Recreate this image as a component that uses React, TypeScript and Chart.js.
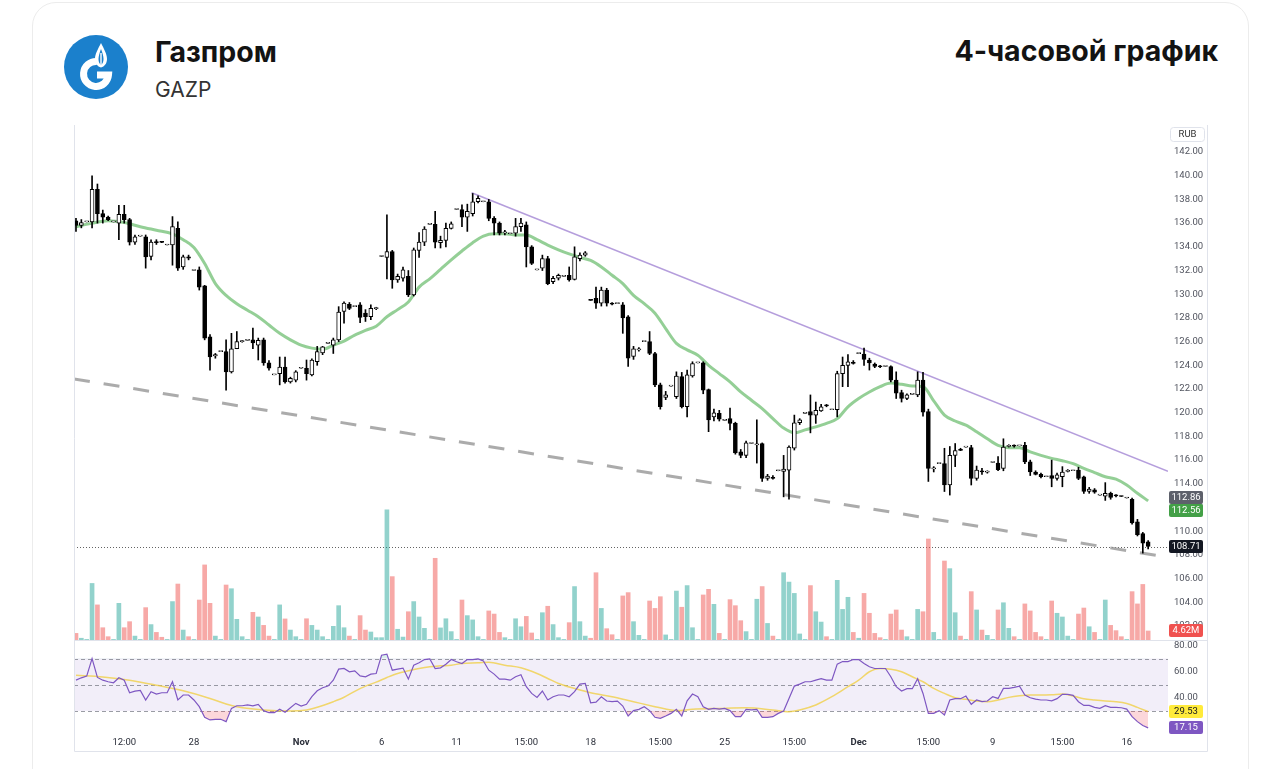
import React, { useEffect, useRef } from 'react';
import { Chart, registerables } from 'chart.js';

Chart.register(...registerables);

// ---- data (4h candles, GAZP) ----
const opens = [
  136.2, 135.8, 136.1, 136.1, 138.85, 136.8, 136.5, 136.1, 136.0, 136.75,
  136.3, 134.4, 134.9, 134.85, 133.2, 134.45, 134.42, 134.15, 134.15, 135.55,
  132.3, 133.15, 132.0, 132.05, 130.7, 126.4, 124.8, 125.15, 125.15, 123.45,
  125.4, 126.0, 126.1, 126.15, 125.7, 126.15, 124.2, 123.2, 123.3, 123.85,
  122.6, 122.75, 123.75, 123.75, 123.2, 124.3, 125.05, 125.85, 125.7, 126.15,
  128.55, 129.15, 128.95, 129.1, 128.4, 128.1, 128.78, 133.18, 133.1, 133.6,
  131.2, 131.35, 131.5, 129.95, 133.7, 134.4, 135.9, 135.9, 134.35, 134.55,
  135.55, 137.15, 137.15, 136.5, 136.8, 137.8, 137.8, 137.8, 136.4, 136.0,
  135.18, 135.1, 135.15, 135.7, 135.85, 134.0, 132.05, 132.2, 133.0, 131.05,
  131.35, 131.5, 131.6, 131.25, 133.0, 133.3, 129.52, 129.65, 129.25, 130.35,
  129.25, 129.2, 129.1, 128.1, 124.75, 125.3, 126.0, 126.0, 125.0, 122.35,
  121.3, 122.25, 121.35, 123.05, 120.5, 123.1, 124.2, 124.2, 121.95, 119.65,
  119.95, 119.35, 119.5, 119.1, 116.7, 116.4, 117.4, 117.28, 117.4, 114.45,
  114.55, 115.1, 115.05, 115.15, 117.0, 119.15, 119.95, 120.1, 119.8, 120.15,
  120.62, 120.25, 120.25, 123.3, 124.0, 124.25, 124.98, 124.95, 124.45, 124.1,
  123.95, 123.9, 123.9, 122.75, 121.7, 121.2, 121.55, 121.5, 122.75, 120.1,
  115.25, 115.7, 115.7, 113.9, 116.4, 116.9, 117.1, 117.05, 114.45, 115.1,
  114.98, 115.8, 115.75, 115.3, 117.15, 117.22, 117.2, 117.25, 115.85, 115.0,
  114.8, 114.6, 114.7, 114.45, 114.6, 115.05, 115.1, 115.15, 114.6, 113.35,
  113.5, 113.05, 112.95, 113.2, 113.02, 112.97, 112.8, 112.7, 110.8, 109.8,
  109.1,
];
const closes = [
  135.8, 136.05, 136.1, 138.85, 136.8, 136.5, 136.3, 136.1, 136.75, 136.3,
  134.4, 134.85, 134.9, 133.15, 134.4, 134.35, 134.38, 134.15, 135.7, 132.2,
  133.15, 133.05, 132.0, 130.6, 126.3, 124.7, 124.9, 125.15, 123.45, 125.4,
  126.0, 126.05, 126.1, 125.9, 126.1, 124.2, 123.75, 123.2, 123.85, 122.6,
  122.9, 123.45, 123.75, 123.3, 124.45, 125.15, 125.55, 125.85, 126.15, 128.5,
  129.25, 128.8, 128.95, 128.05, 128.1, 128.8, 128.82, 133.22, 133.6, 131.2,
  131.5, 132.05, 129.95, 133.75, 134.4, 135.5, 135.9, 134.4, 134.55, 135.55,
  135.95, 137.15, 136.5, 137.0, 137.8, 138.1, 137.8, 136.4, 136.0, 135.15,
  135.22, 135.1, 135.7, 136.0, 134.0, 132.6, 132.05, 133.0, 130.9, 131.35,
  131.6, 131.5, 131.2, 133.15, 133.3, 133.5, 129.48, 129.25, 130.35, 129.25,
  129.15, 129.2, 128.0, 124.6, 125.4, 125.4, 126.0, 125.0, 122.35, 120.5,
  121.5, 122.25, 123.1, 120.5, 123.2, 124.15, 124.2, 121.9, 119.4, 120.0,
  119.45, 119.35, 119.1, 116.6, 116.4, 117.45, 117.4, 117.32, 114.45, 114.65,
  114.45, 115.1, 115.25, 117.1, 119.15, 119.4, 119.95, 119.8, 120.2, 120.5,
  120.58, 120.25, 123.3, 124.0, 124.3, 124.15, 125.02, 124.5, 124.2, 123.9,
  123.88, 123.9, 122.75, 121.65, 121.2, 121.5, 121.55, 122.75, 120.05, 115.3,
  115.35, 115.7, 113.9, 116.4, 116.8, 116.82, 117.1, 114.45, 115.15, 115.0,
  115.02, 115.8, 115.2, 117.1, 117.25, 117.18, 117.2, 115.85, 115.0, 114.8,
  114.6, 114.6, 114.45, 114.75, 115.0, 115.12, 115.1, 114.45, 113.35, 113.55,
  113.3, 113.05, 113.2, 112.85, 112.98, 112.93, 112.8, 110.7, 109.7, 109.0,
  108.71,
];
const highs = [
  136.4, 136.3, 136.1, 140.0, 139.3, 137.1, 136.6, 136.1, 137.5, 137.5,
  136.4, 135.0, 134.9, 135.0, 134.6, 134.6, 134.45, 134.15, 136.55, 136.1,
  133.3, 133.3, 132.0, 132.3, 130.75, 126.6, 125.0, 125.15, 126.15, 126.7,
  126.85, 126.1, 126.1, 127.15, 126.3, 126.3, 124.4, 123.2, 124.7, 124.7,
  123.0, 123.55, 123.75, 124.45, 124.55, 125.6, 125.6, 125.85, 126.3, 128.95,
  129.35, 129.3, 128.95, 129.3, 128.7, 129.1, 128.9, 133.22, 136.7, 133.7,
  131.7, 132.3, 132.0, 133.9, 135.2, 135.7, 135.9, 137.0, 134.9, 136.0,
  136.1, 137.15, 137.55, 137.6, 138.5, 138.3, 137.8, 138.0, 136.55, 136.1,
  135.4, 135.1, 136.4, 136.4, 136.1, 134.1, 132.05, 133.3, 133.2, 131.5,
  131.7, 131.5, 132.3, 134.0, 133.5, 133.6, 129.52, 130.6, 130.6, 130.5,
  129.3, 129.2, 129.3, 128.2, 125.6, 125.5, 126.0, 126.85, 125.1, 122.5,
  121.8, 122.25, 123.45, 123.4, 123.6, 124.3, 124.2, 124.3, 122.0, 120.3,
  120.2, 119.35, 120.4, 119.2, 116.9, 117.6, 117.4, 119.4, 117.45, 114.8,
  114.7, 115.1, 116.4, 117.2, 119.8, 119.5, 119.95, 121.5, 120.9, 120.7,
  120.7, 120.25, 123.5, 124.7, 124.9, 124.4, 125.02, 125.45, 124.6, 124.2,
  124.0, 123.9, 123.95, 123.45, 121.9, 121.6, 121.55, 123.45, 123.4, 120.3,
  115.45, 115.7, 117.0, 117.15, 117.4, 117.0, 117.1, 117.25, 115.5, 115.3,
  115.1, 115.8, 116.3, 117.8, 117.3, 117.3, 117.2, 117.5, 116.0, 115.1,
  114.9, 114.6, 116.0, 114.9, 115.45, 115.2, 115.1, 115.4, 114.65, 113.7,
  113.6, 113.05, 114.1, 113.3, 113.1, 112.97, 112.8, 112.8, 111.0, 109.9,
  109.2,
];
const lows = [
  135.3, 135.6, 136.1, 135.6, 136.0, 136.0, 136.2, 136.1, 134.6, 136.0,
  134.15, 134.2, 134.9, 132.2, 132.9, 134.2, 134.35, 134.15, 132.45, 132.0,
  132.1, 132.9, 132.0, 130.35, 126.15, 123.6, 124.6, 125.15, 121.9, 123.35,
  125.4, 125.95, 126.1, 125.4, 124.45, 124.0, 123.6, 123.2, 122.35, 122.5,
  122.5, 122.6, 123.75, 122.75, 123.1, 124.0, 124.9, 125.85, 125.0, 126.0,
  127.55, 128.7, 128.95, 127.6, 127.7, 127.85, 128.7, 133.18, 131.3, 130.5,
  131.0, 131.1, 129.8, 129.85, 133.1, 134.1, 135.9, 133.9, 133.9, 134.0,
  135.5, 137.15, 135.7, 135.3, 136.6, 137.7, 137.8, 136.2, 135.0, 135.0,
  135.0, 135.1, 134.9, 135.3, 132.3, 132.5, 132.05, 132.0, 130.8, 130.9,
  131.2, 131.5, 131.1, 131.2, 132.8, 133.2, 129.48, 128.8, 129.0, 129.0,
  129.1, 129.2, 126.7, 123.9, 124.5, 125.2, 126.0, 124.9, 122.2, 120.3,
  121.1, 122.25, 121.2, 120.4, 119.65, 123.0, 124.2, 121.6, 118.4, 119.3,
  119.3, 119.35, 118.55, 116.5, 116.2, 116.2, 117.4, 115.75, 114.2, 114.3,
  114.4, 115.1, 112.9, 112.7, 116.85, 119.0, 119.95, 118.3, 119.1, 120.1,
  120.5, 120.25, 119.65, 122.2, 122.2, 124.1, 124.98, 124.0, 123.6, 123.8,
  123.8, 123.9, 122.6, 121.2, 120.9, 121.1, 121.55, 121.35, 119.7, 114.2,
  115.0, 115.7, 113.35, 113.05, 115.45, 116.8, 117.1, 113.9, 114.3, 114.8,
  114.9, 115.8, 115.1, 115.1, 117.1, 117.1, 117.2, 115.7, 114.7, 114.75,
  114.5, 114.6, 113.75, 114.3, 113.75, 115.0, 115.1, 114.35, 113.2, 113.2,
  113.2, 113.05, 112.6, 112.7, 112.9, 112.93, 112.8, 110.6, 109.6, 108.15,
  108.5,
];
// volume, millions of shares
const volumes = [
  3.4, 0.9, 0.3, 29, 18, 6.3, 1.7, 0.3, 18.8, 6.3,
  9.4, 2, 0.3, 16.6, 7.9, 3.9, 1.4, 0.3, 19.7, 28.7,
  5.1, 1.7, 0.3, 20.5, 38.5, 18.8, 2, 0.3, 28.2, 26.3,
  10.6, 1.7, 0.3, 14.2, 11.8, 7.5, 2, 0.3, 18, 10.8,
  5.1, 1.7, 0.3, 10.9, 7.5, 5.1, 1.7, 0.3, 7, 17.6,
  6.3, 2, 0.3, 12.5, 5.1, 4.1, 1.2, 1.2, 66.7, 32.5,
  5.5, 1.5, 14.5, 19.7, 11.8, 6, 0.3, 41.9, 6.2, 10.9,
  4.3, 0.3, 20.5, 12.5, 10.3, 1.7, 0.3, 14.9, 13.3, 3.9,
  1.2, 0.3, 10.9, 6.8, 12.1, 3.6, 0.3, 14, 17.3, 7.9,
  1.2, 0.3, 8.9, 27.4, 9.4, 2, 0.9, 34.5, 16.2, 5.8,
  2.7, 0.3, 22.6, 24.3, 9.4, 2.4, 0.3, 20, 16.2, 22.2,
  2.6, 0.3, 25.1, 16.8, 27.9, 6.3, 0.3, 23.1, 26, 18.3,
  3.4, 0.3, 20.7, 17.6, 9.9, 4.3, 0.3, 20.9, 27.4, 8.5,
  2, 0.3, 34.5, 29.7, 23.9, 3.1, 0.3, 27.9, 14.5, 9.2,
  1.7, 0.3, 30.6, 15.7, 21.9, 3.9, 0.9, 23.9, 13.7, 3.4,
  1.2, 0.3, 13.3, 15.4, 5.1, 1.7, 0.3, 15.7, 14.5, 51.8,
  3.9, 0.3, 40.5, 36.6, 14, 2, 0.3, 24.8, 15.4, 5.1,
  2.4, 0.3, 15.4, 19.1, 6, 1.7, 0.3, 18.5, 14.9, 3.9,
  1.7, 0.3, 20, 13.7, 11.8, 2, 0.3, 13.3, 16.4, 6.8,
  3.9, 0.3, 20.5, 7.5, 4.8, 1.7, 0.3, 24.8, 18.5, 28.5,
  4.62,
];
const rsiValues = [
  53.5, 55.3, 56.6, 70, 55.6, 53.5, 52.3, 51.5, 55.3, 53.5,
  43.9, 45.2, 45.7, 38.4, 44.7, 42.9, 43.9, 43.9, 52.3, 38.4,
  42.2, 42.2, 38.4, 33.3, 25.2, 23.2, 23.7, 23.7, 21.9, 32,
  34, 34, 34.6, 34, 35.1, 30.3, 28.7, 28.7, 31.3, 29,
  32.5, 35.8, 33.8, 35.1, 40.9, 45.4, 47.7, 49, 53.5, 61.9,
  62.4, 59.9, 60.6, 56.8, 56.1, 58.1, 58.6, 72.5, 73.3, 61.1,
  61.9, 62.7, 54.3, 64.9, 66.7, 69.2, 69.7, 62.4, 62.9, 65.7,
  69.2, 67.5, 66.2, 69.2, 69.2, 69.7, 68.2, 61.1, 58.1, 54.3,
  54.3, 53.5, 56.1, 57.6, 48.5, 43.4, 40.4, 45.2, 38.4, 40.9,
  42.2, 42.2, 40.9, 44.7, 50.5, 51, 36.3, 36.8, 40.9, 37.6,
  37.1, 37.6, 33.8, 26.2, 30.3, 31.3, 33.3, 30.3, 25.2, 24.4,
  26.2, 28.2, 31.3, 26.2, 37.8, 42.9, 40.9, 33.3, 31.3, 32,
  31.5, 32, 30.3, 25.7, 25.7, 31.3, 30.8, 31.3, 25.2, 25.2,
  25.7, 28.2, 30, 39.6, 49, 50.5, 52.3, 52.3, 53.5, 54.6,
  53.5, 53.5, 65.7, 67.7, 67.7, 69.2, 69.2, 66.2, 63.7, 62.4,
  62.4, 62.4, 56.1, 48.5, 45.2, 47, 47, 54.6, 43.4, 28.2,
  28.2, 30.3, 27, 38.4, 39.4, 39.4, 41.4, 35.1, 38.4, 37.1,
  37.6, 40.9, 39.6, 47.2, 47.2, 48, 49, 42.2, 40.1, 39.1,
  38.4, 38.4, 37.8, 39.4, 42.7, 42.7, 41.9, 37.1, 34.3, 34.3,
  32.8, 32, 34, 32.8, 32.8, 32.5, 31.5, 25.7, 21.9, 18.9,
  17.15,
];
const rsiMaIdx = [0, 5, 10, 15, 20, 25, 28, 30, 35, 40, 43, 45, 48, 50, 52, 54, 56, 58, 60, 62, 64, 66, 68, 70, 72, 75, 77, 80, 83, 86, 88, 90, 93, 96, 100, 104, 108, 110, 112, 115, 120, 125, 130, 133, 135, 138, 141, 144, 146, 148, 150, 152, 154, 156, 158, 160, 162, 164, 166, 168, 170, 172, 174, 176, 178, 180, 182, 184, 186, 188, 190, 192, 194, 196, 198, 200];
const rsiMaVals = [57.3, 56, 53.5, 49.7, 45.4, 39.6, 35.3, 33.3, 30.8, 30, 30.8, 32.8, 37.1, 40.5, 45, 49, 52, 55.5, 58.6, 60.6, 62.4, 63.7, 64.4, 64.9, 66.2, 66.7, 67.2, 64.9, 62.9, 58.6, 54.8, 51, 47.2, 43.9, 40.9, 37.1, 33.3, 31.5, 30.3, 31.3, 32, 32.5, 30.8, 29.5, 30.8, 34.6, 40.9, 48.5, 53.5, 59.9, 62.4, 61.9, 59.9, 56.1, 52.3, 47.2, 43.4, 40.1, 38.9, 37.6, 37.1, 38.4, 40.4, 41.6, 42.2, 42.2, 42.4, 42.9, 41.4, 39.4, 38.4, 37.6, 37.1, 35.8, 32.8, 29.53];
const emaIdx = [0, 3, 6, 9, 12, 15, 18, 20, 22, 24, 26, 28, 30, 32, 34, 36, 38, 40, 42, 44, 46, 48, 50, 52, 54, 56, 58, 60, 62, 64, 66, 68, 70, 72, 74, 76, 78, 80, 82, 84, 86, 88, 90, 92, 94, 96, 98, 100, 102, 104, 106, 108, 110, 112, 114, 116, 118, 120, 122, 124, 126, 128, 130, 132, 134, 136, 138, 140, 142, 144, 146, 148, 150, 152, 154, 156, 158, 160, 162, 164, 166, 168, 170, 172, 174, 176, 178, 180, 182, 184, 186, 188, 190, 192, 194, 196, 198, 200];
const emaVals = [135.7, 136.0, 136.2, 136.05, 135.7, 135.4, 135.1, 134.6, 133.95, 132.6, 130.9, 129.9, 129.2, 128.65, 128.1, 127.4, 126.7, 126.15, 125.7, 125.45, 125.35, 125.7, 126.05, 126.55, 126.95, 127.3, 128.1, 128.7, 129.35, 130.6, 131.3, 132.1, 132.9, 133.65, 134.35, 134.9, 135.1, 135.1, 135.0, 135.0, 134.6, 134.15, 133.75, 133.4, 133.1, 132.85, 132.3, 131.6, 130.9, 129.9, 129.2, 128.4, 127.1, 125.85, 125.3, 124.85, 124.0, 123.3, 122.6, 121.75, 121.05, 120.35, 119.5, 118.7, 118.3, 118.55, 118.8, 119.1, 119.5, 120.5, 121.2, 121.75, 122.2, 122.5, 122.4, 122.25, 122.2, 121.0, 119.8, 119.3, 118.95, 118.4, 117.8, 117.25, 117.05, 117.05, 116.7, 116.4, 116.15, 115.95, 115.7, 115.3, 114.95, 114.6, 114.4, 113.9, 113.2, 112.56];
const resistanceLine = [{ x: 73.8, y: 138.57 }, { x: 203.7, y: 115.05 }];
const supportLine = [{ x: -0.37, y: 122.85 }, { x: 203.7, y: 107.8 }];
const timeTickIdx = [9, 22, 42, 57, 71, 84, 96, 109, 121, 134, 146, 159, 171, 184, 196];
const timeTickText = ['12:00', '28', 'Nov', '6', '11', '15:00', '18', '15:00', '25', '15:00', 'Dec', '15:00', '9', '15:00', '16'];
const monthTicks = ['Nov', 'Dec'];
const priceTicks = [102, 104, 106, 108, 110, 112, 114, 116, 118, 120, 122, 124, 126, 128, 130, 132, 134, 136, 138, 140, 142];
const rsiTicks = [40, 60, 80];
const rsiLevels = [70, 50, 30];
const secondMaLast = 112.86;

function rrect(ctx: CanvasRenderingContext2D, x: number, y: number, w: number, h: number, r: number) {
  ctx.beginPath();
  ctx.moveTo(x + r, y);
  ctx.lineTo(x + w - r, y);
  ctx.quadraticCurveTo(x + w, y, x + w, y + r);
  ctx.lineTo(x + w, y + h - r);
  ctx.quadraticCurveTo(x + w, y + h, x + w - r, y + h);
  ctx.lineTo(x + r, y + h);
  ctx.quadraticCurveTo(x, y + h, x, y + h - r);
  ctx.lineTo(x, y + r);
  ctx.quadraticCurveTo(x, y, x + r, y);
  ctx.closePath();
}

const noPad = (s: any) => {
  s.paddingTop = 0;
  s.paddingBottom = 0;
  s.paddingLeft = 0;
  s.paddingRight = 0;
};

export default function App() {
  const ref = useRef<HTMLCanvasElement>(null);

  useEffect(() => {
    const canvas = ref.current;
    if (!canvas) return;
    Chart.defaults.font.family = 'Roboto, sans-serif';
    const idx = closes.map((_, i) => i);
    const up = idx.map((i) => closes[i] >= opens[i]);
    const last = closes.length - 1;

    const overlay = {
      id: 'overlay',
      beforeDatasetsDraw(chart: any) {
        const { ctx, chartArea: a, scales } = chart;
        const r = scales.rsi;
        const p = scales.y;
        ctx.save();
        const y70 = r.getPixelForValue(rsiLevels[0]);
        const y30 = r.getPixelForValue(rsiLevels[2]);
        ctx.fillStyle = 'rgba(126,87,194,0.1)';
        ctx.fillRect(a.left, y70, a.right - a.left, y30 - y70);
        ctx.strokeStyle = 'rgba(120,123,134,0.75)';
        ctx.lineWidth = 1;
        ctx.setLineDash([4, 3]);
        rsiLevels.forEach((v) => {
          const y = Math.round(r.getPixelForValue(v)) + 0.5;
          ctx.beginPath(); ctx.moveTo(a.left, y); ctx.lineTo(a.right, y); ctx.stroke();
        });
        ctx.setLineDash([1, 2]);
        ctx.strokeStyle = 'rgba(60,60,60,0.8)';
        const yl = Math.round(p.getPixelForValue(closes[last])) + 0.5;
        ctx.beginPath(); ctx.moveTo(a.left, yl); ctx.lineTo(a.right, yl); ctx.stroke();
        ctx.restore();
      },
      afterDraw(chart: any) {
        const { ctx, scales, width, height } = chart;
        const p = scales.y, r = scales.rsi, v = scales.vol;
        ctx.save();
        ctx.strokeStyle = '#e0e3eb';
        ctx.lineWidth = 1;
        ctx.setLineDash([]);
        const ys = Math.round(p.bottom) + 0.5;
        ctx.beginPath(); ctx.moveTo(0, ys); ctx.lineTo(width, ys); ctx.stroke();
        ctx.beginPath();
        ctx.moveTo(0.5, 0); ctx.lineTo(0.5, height - 0.5); ctx.lineTo(width - 0.5, height - 0.5); ctx.lineTo(width - 0.5, 0);
        ctx.stroke();
        const x0 = p.left + 1;
        const w = 34;
        const tag = (y: number, text: string, bg: string, fg: string) => {
          const h = 13;
          const top = Math.round(y - h / 2);
          ctx.fillStyle = bg;
          rrect(ctx, x0, top, w, h, 2);
          ctx.fill();
          ctx.fillStyle = fg;
          ctx.font = '9.5px Roboto, sans-serif';
          ctx.textAlign = 'center';
          ctx.textBaseline = 'middle';
          ctx.fillText(text, x0 + w / 2, top + h / 2 + 0.5);
        };
        // currency box
        ctx.fillStyle = '#fff';
        ctx.strokeStyle = '#e0e3eb';
        rrect(ctx, x0 + 1.5, 2.5, w, 14, 3);
        ctx.fill();
        ctx.stroke();
        ctx.fillStyle = '#333';
        ctx.font = '9.5px Roboto, sans-serif';
        ctx.textAlign = 'center';
        ctx.textBaseline = 'middle';
        ctx.fillText('RUB', x0 + 1.5 + w / 2, 10);
        const yA = p.getPixelForValue(secondMaLast);
        tag(yA, secondMaLast.toFixed(2), '#5d606b', '#fff');
        const emaLast = emaVals[emaVals.length - 1];
        tag(Math.max(p.getPixelForValue(emaLast), yA + 13), emaLast.toFixed(2), '#43a047', '#fff');
        tag(p.getPixelForValue(closes[last]), closes[last].toFixed(2), '#131722', '#fff');
        tag(v.getPixelForValue(volumes[last]), volumes[last].toFixed(2) + 'M', '#f0514f', '#fff');
        const maLast = rsiMaVals[rsiMaVals.length - 1];
        tag(r.getPixelForValue(maLast), maLast.toFixed(2), '#ffeb3b', '#131722');
        tag(r.getPixelForValue(rsiValues[last]), rsiValues[last].toFixed(2), '#7e57c2', '#fff');
        ctx.restore();
      },
    };

    const chart = new Chart(canvas, {
      type: 'bar',
      data: {
        datasets: [
          {
            type: 'bar', label: 'bodies',
            data: idx.map((i) => ({ x: i, y: [opens[i], closes[i]] })) as any,
            backgroundColor: idx.map((i) => (up[i] ? '#ffffff' : '#000000')),
            borderColor: '#000000', borderWidth: 1, borderSkipped: false,
            barThickness: 4, minBarLength: 1, grouped: false,
            xAxisID: 'x', yAxisID: 'y', order: 1,
          },
          {
            type: 'bar', label: 'wicks',
            data: idx.map((i) => ({ x: i, y: [lows[i], highs[i]] })) as any,
            backgroundColor: '#000000', borderWidth: 0, barThickness: 1, grouped: false,
            xAxisID: 'x', yAxisID: 'y', order: 2,
          },
          {
            type: 'line', label: 'ema',
            data: emaIdx.map((x, k) => ({ x, y: emaVals[k] })),
            borderColor: 'rgba(102,187,106,0.7)', borderWidth: 3, pointRadius: 0,
            cubicInterpolationMode: 'monotone', xAxisID: 'x', yAxisID: 'y', order: 3,
          },
          {
            type: 'line', label: 'resistance', data: resistanceLine,
            borderColor: 'rgba(149,117,205,0.7)', borderWidth: 1.6, pointRadius: 0,
            xAxisID: 'x', yAxisID: 'y', order: 4,
          },
          {
            type: 'line', label: 'support', data: supportLine,
            borderColor: 'rgba(150,150,150,0.8)', borderWidth: 3, borderDash: [16, 14], pointRadius: 0,
            xAxisID: 'x', yAxisID: 'y', order: 5,
          },
          {
            type: 'line', label: 'rsiMa',
            data: rsiMaIdx.map((x, k) => ({ x, y: rsiMaVals[k] })),
            borderColor: 'rgba(240,205,60,0.75)', borderWidth: 1.5, pointRadius: 0,
            cubicInterpolationMode: 'monotone', xAxisID: 'x', yAxisID: 'rsi', order: 7,
          },
          {
            type: 'line', label: 'rsi',
            data: idx.map((i) => ({ x: i, y: rsiValues[i] })),
            borderColor: '#7e57c2', borderWidth: 1.2, pointRadius: 0,
            fill: { target: { value: 30 }, above: 'rgba(0,0,0,0)', below: 'rgba(242,54,69,0.2)' } as any,
            xAxisID: 'x', yAxisID: 'rsi', order: 6,
          },
          {
            type: 'line', label: 'rsiOb',
            data: idx.map((i) => ({ x: i, y: rsiValues[i] })),
            borderColor: 'rgba(0,0,0,0)', borderWidth: 0, pointRadius: 0,
            fill: { target: { value: 70 }, above: 'rgba(8,153,129,0.15)', below: 'rgba(0,0,0,0)' } as any,
            xAxisID: 'x', yAxisID: 'rsi', order: 8,
          },
          {
            type: 'bar', label: 'volume',
            data: idx.map((i) => ({ x: i, y: volumes[i] })),
            backgroundColor: idx.map((i) => (up[i] ? 'rgba(38,166,154,0.5)' : 'rgba(239,83,80,0.5)')),
            borderWidth: 0, barThickness: 4, grouped: false,
            xAxisID: 'x', yAxisID: 'vol', order: 10,
          },
        ] as any,
      },
      options: {
        responsive: false,
        animation: false,
        events: [],
        layout: { padding: 0 },
        plugins: { legend: { display: false }, tooltip: { enabled: false } },
        scales: {
          x: {
            type: 'linear', min: -0.37, max: 203.7, offset: false,
            grid: { display: false, drawTicks: false, offset: false } as any,
            border: { display: false },
            afterBuildTicks: (s: any) => { s.ticks = timeTickIdx.map((v) => ({ value: v })); },
            afterFit: (s: any) => { s.height = 23; noPad(s); },
            ticks: {
              autoSkip: false, maxRotation: 0, padding: 8, color: '#2a2e39',
              font: (c: any) => {
                const k = c.tick ? timeTickIdx.indexOf(c.tick.value) : -1;
                const t = k >= 0 ? timeTickText[k] : '';
                return { size: 9.5, weight: monthTicks.includes(t) ? 'bold' : 'normal' } as any;
              },
              callback: (val: any) => {
                const k = timeTickIdx.indexOf(Number(val));
                return k >= 0 ? timeTickText[k] : '';
              },
            },
          },
          y: {
            type: 'linear', position: 'right', stack: 'panes', stackWeight: 515,
            min: 100.82, max: 144.28,
            grid: { display: false, drawTicks: false },
            border: { display: false },
            afterBuildTicks: (s: any) => { s.ticks = priceTicks.map((v) => ({ value: v })); },
            afterFit: (s: any) => { s.width = 40; noPad(s); },
            ticks: { autoSkip: false, padding: 6, color: '#50535e', font: { size: 9.5 }, callback: (v: any) => Number(v).toFixed(2) },
          },
          rsi: {
            type: 'linear', position: 'right', stack: 'panes', stackWeight: 89,
            min: 16.3, max: 84.1,
            grid: { display: false, drawTicks: false },
            border: { display: false },
            afterBuildTicks: (s: any) => { s.ticks = rsiTicks.map((v) => ({ value: v })); },
            afterFit: (s: any) => { s.width = 40; noPad(s); },
            ticks: { autoSkip: false, padding: 6, color: '#50535e', font: { size: 9.5 }, callback: (v: any) => Number(v).toFixed(2) },
          },
          vol: {
            type: 'linear', position: 'right', display: false,
            min: -45.64, max: 264.1,
            afterFit: (s: any) => { noPad(s); },
          },
        } as any,
      },
      plugins: [overlay],
    });
    return () => chart.destroy();
  }, []);

  const headFont = 'Inter, Roboto, sans-serif';
  return (
    <div style={{ position: 'absolute', left: 0, top: 0, width: 1280, height: 769, background: '#fff', overflow: 'hidden', fontFamily: headFont }}>
      <div style={{ position: 'absolute', left: 32, top: 2, width: 1217, height: 820, border: '1px solid #ececec', borderRadius: 24, boxSizing: 'border-box' }} />
      <svg width={64} height={64} viewBox="0 0 64 64" style={{ position: 'absolute', left: 64, top: 35 }}>
        <circle cx={32} cy={32} r={32} fill="#1b80cc" />
        <path d="M37 8 C40 14 43 19 43 24 C43 28.5 40.5 31.5 37 32.5 C33.5 31.5 31 28.5 31 24 C31 19 34 14 37 8 Z" fill="#fff" />
        <path d="M37 14 C38.5 18 39.5 21 39.5 24 C39.5 27 38.5 29 37 30 C35.5 29 34.5 27 34.5 24 C34.5 21 35.5 18 37 14 Z" fill="#1b80cc" />
        <path d="M37 18 L37 31" stroke="#fff" strokeWidth={1.4} />
        <path d="M33 26.5 A 12.5 12.5 0 1 0 44.5 40 L 33 40" fill="none" stroke="#fff" strokeWidth={7} />
      </svg>
      <div style={{ position: 'absolute', left: 155, top: 37.5, fontSize: 28.5, fontWeight: 700, lineHeight: '28px', color: '#131313', whiteSpace: 'nowrap' }}>Газпром</div>
      <div style={{ position: 'absolute', left: 155, top: 78.5, fontSize: 21, lineHeight: '21px', color: '#333', whiteSpace: 'nowrap' }}>GAZP</div>
      <div style={{ position: 'absolute', right: 62, top: 36.5, fontSize: 28.5, fontWeight: 700, lineHeight: '28px', color: '#131313', whiteSpace: 'nowrap' }}>4-часовой график</div>
      <div style={{ position: 'absolute', left: 74, top: 125, width: 1134, height: 627 }}>
        <canvas ref={ref} width={1134} height={627} style={{ width: 1134, height: 627, display: 'block' }} />
      </div>
    </div>
  );
}
